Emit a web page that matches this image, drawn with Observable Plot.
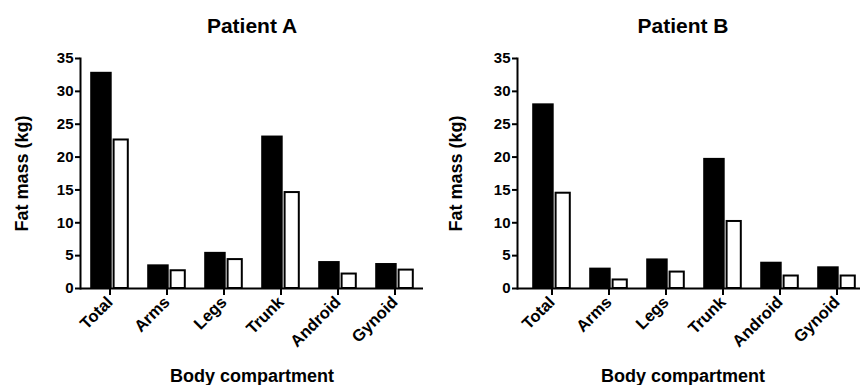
<!DOCTYPE html>
<html>
<head>
<meta charset="utf-8">
<script src="https://cdn.jsdelivr.net/npm/d3@7"></script>
<script src="https://cdn.jsdelivr.net/npm/@observablehq/plot@0.6"></script>
<style>
  html, body { margin: 0; padding: 0; background: #fff; overflow: hidden; }
  #wrap { position: relative; width: 860px; height: 385px; overflow: hidden; }
  .panel { position: absolute; top: 0; width: 430px; height: 385px; }
  .panel svg { overflow: visible; }
</style>
</head>
<body>
<div id="wrap">
  <div class="panel" id="pA" style="left:0px"></div>
  <div class="panel" id="pB" style="left:430px"></div>
</div>
<script>
const categories = ["Total", "Arms", "Legs", "Trunk", "Android", "Gynoid"];
const yTicks = [0, 5, 10, 15, 20, 25, 30, 35];

const patientA_black = [32.9, 3.6, 5.5, 23.2, 4.1, 3.8];
const patientA_white = [22.6, 2.7, 4.4, 14.6, 2.2, 2.8];
const patientB_black = [28.1, 3.1, 4.5, 19.8, 4.0, 3.3];
const patientB_white = [14.5, 1.3, 2.5, 10.2, 1.9, 1.9];

const titles = ["Patient A", "Patient B"];
const yLabel = "Fat mass (kg)";
const xLabel = "Body compartment";

const FONT = "'Liberation Sans', Arial, Helvetica, sans-serif";

function panel(title, black, white, opt) {
  const dBlack = categories.map((c, i) => ({cat: c, v: black[i]}));
  const dWhite = categories.map((c, i) => ({cat: c, v: white[i]}));
  return Plot.plot({
    width: 430,
    height: 385,
    marginLeft: opt.marginLeft,
    marginRight: opt.marginRight,
    marginTop: 58,
    marginBottom: 97,
    style: {fontFamily: FONT, color: "#000", background: "transparent"},
    x: {domain: categories, padding: 0, range: opt.xRange, axis: null},
    y: {domain: [0, 35], axis: null},
    marks: [
      Plot.barY(dBlack, {x: "cat", y: "v", fill: "#000", insetLeft: 9.2, insetRight: 26.3}),
      Plot.barY(dWhite, {x: "cat", y: "v", fill: "#fff", stroke: "#000", strokeWidth: 2, insetLeft: 32.6, insetRight: 10.2}),
      Plot.ruleY([0], {stroke: "#000", strokeWidth: 2}),
      Plot.frame({anchor: "left", stroke: "#000", strokeWidth: 2}),
      Plot.axisY({ticks: yTicks, tickSize: 5, tickPadding: 2, strokeWidth: 2, fontSize: 15, fontWeight: "bold", label: null}),
      Plot.axisX({tickSize: 7, strokeWidth: 2, tickRotate: -45, tickPadding: 4, fontSize: 16.5, fontWeight: "bold", label: null}),
      Plot.text([yLabel], {frameAnchor: "left", rotate: -90, dx: opt.yLabelDx, fontSize: 18, fontWeight: "bold", textAnchor: "middle", lineAnchor: "middle"}),
      Plot.text([title], {frameAnchor: "top", dy: -32, dx: opt.titleDx, fontSize: 21, fontWeight: "bold", textAnchor: "middle", lineAnchor: "middle"}),
      Plot.text([xLabel], {frameAnchor: "bottom", dy: 88, dx: opt.titleDx, fontSize: 18, fontWeight: "bold", textAnchor: "middle", lineAnchor: "middle"})
    ]
  });
}

document.getElementById("pA").appendChild(
  panel(titles[0], patientA_black, patientA_white, {marginLeft: 80, marginRight: 7, xRange: [80, 423], yLabelDx: -58, titleDx: 0})
);
document.getElementById("pB").appendChild(
  panel(titles[1], patientB_black, patientB_white, {marginLeft: 87, marginRight: 0, xRange: [92, 435.4], yLabelDx: -61, titleDx: -6})
);
</script>
</body>
</html>
